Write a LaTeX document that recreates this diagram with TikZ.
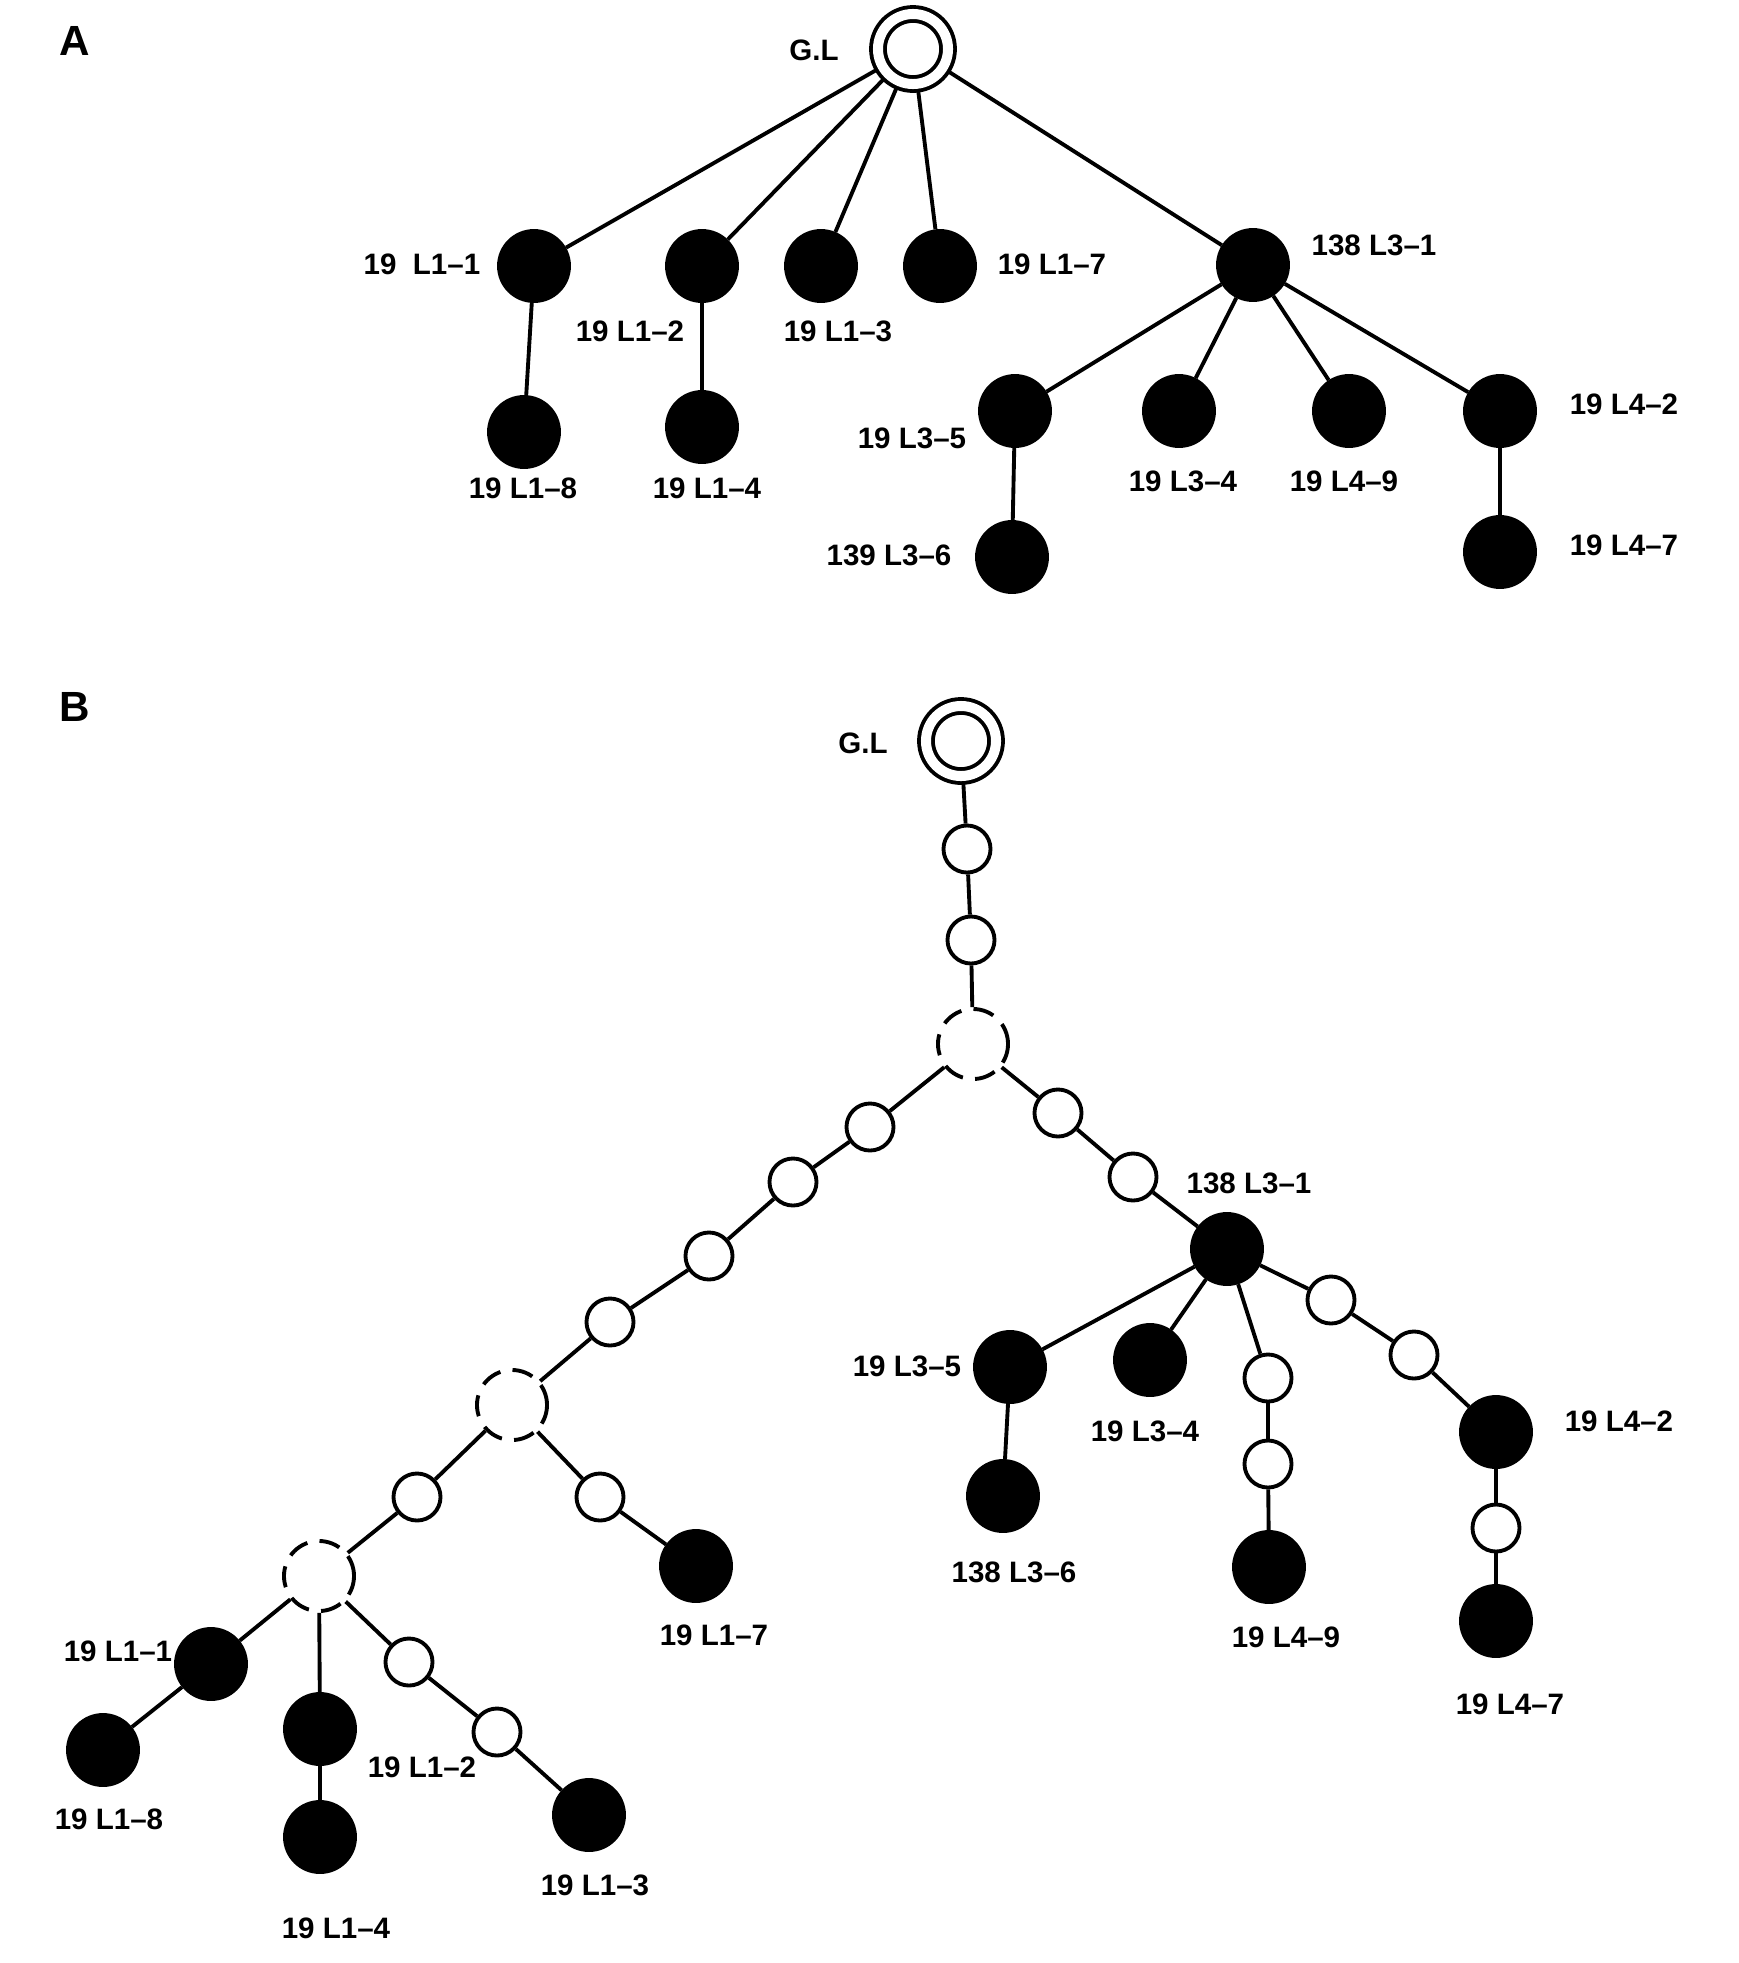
\documentclass[tikz,border=0pt]{standalone}
\usepackage{fontspec}
\setmainfont{Liberation Sans}
\usepackage{tikz}
\usetikzlibrary{shapes, calc, backgrounds}

\begin{document}
\begin{tikzpicture}[x=0.01cm, y=-0.01cm]
\useasboundingbox (0,0) rectangle (1738,1963);
\def\lw{1.1pt}
	\tikzset{class1/.style={circle, draw=black, fill=black, line width=\lw, inner sep=0pt, minimum size=0.70cm}}
	\tikzset{class0/.style={circle, draw=black, fill=white, line width=\lw, inner sep=0pt, minimum size=0.47cm}}
	\tikzset{classD/.style={circle, draw=black, fill=white, line width=\lw, inner sep=0pt, minimum size=0.70cm, dash pattern=on 6pt off 3.5pt}}
	\tikzset{classG/.style={circle, draw=black, fill=white, line width=\lw, inner sep=0pt, minimum size=0.70cm, double, double distance=0.1cm}}
	\tikzset{link/.style={-, line width=\lw}}
	\tikzset{lab/.style={inner sep=0pt, font=\bfseries\fontsize{8.4}{10}\selectfont}}
	\tikzset{panel/.style={inner sep=0pt, font=\bfseries\fontsize{12}{14}\selectfont}}

% A
\node[panel] (panA) at (75, 41) {A};
\node[classG] (aGL) at (913, 49) {};
\node[class1] (a11) at (534, 266) {};
\node[class1] (a12) at (702, 266) {};
\node[class1] (a13) at (821, 266) {};
\node[class1] (a17) at (940, 266) {};
\node[class1] (a31) at (1253, 265) {};
\node[class1] (a18) at (524, 432) {};
\node[class1] (a14) at (702, 427) {};
\node[class1] (a35) at (1015, 411) {};
\node[class1] (a34) at (1179, 411) {};
\node[class1] (a49) at (1349, 411) {};
\node[class1] (a42) at (1500, 411) {};
\node[class1] (a36) at (1012, 557) {};
\node[class1] (a47) at (1500, 552) {};

\begin{scope}[on background layer]
\draw [link] (aGL) -- (a11);
\draw [link] (aGL) -- (a12);
\draw [link] (aGL) -- (a13);
\draw [link] (aGL) -- (a17);
\draw [link] (aGL) -- (a31);
\draw [link] (a11) -- (a18);
\draw [link] (a12) -- (a14);
\draw [link] (a31) -- (a35);
\draw [link] (a31) -- (a34);
\draw [link] (a31) -- (a49);
\draw [link] (a31) -- (a42);
\draw [link] (a35) -- (a36);
\draw [link] (a42) -- (a47);
\end{scope}

\node[lab] (laGL) at (814, 50) {G.L};
\node[lab] (la11) at (422, 264) {19~~L1–1};
\node[lab] (la12) at (630, 331) {19 L1–2};
\node[lab] (la13) at (838, 331) {19 L1–3};
\node[lab] (la17) at (1052, 264) {19 L1–7};
\node[lab] (la31) at (1374, 245) {138 L3–1};
\node[lab] (la18) at (523, 488) {19 L1–8};
\node[lab] (la14) at (707, 488) {19 L1–4};
\node[lab] (la35) at (912, 438) {19 L3–5};
\node[lab] (la34) at (1183, 481) {19 L3–4};
\node[lab] (la49) at (1344, 481) {19 L4–9};
\node[lab] (la42) at (1624, 404) {19 L4–2};
\node[lab] (la36) at (889, 555) {139 L3–6};
\node[lab] (la47) at (1624, 545) {19 L4–7};

% B
\node[panel] (panB) at (75, 707) {B};
\node[lab] (lb11) at (118, 1651) {19 L1–1};
\node[classG] (bGL) at (961, 741) {};
\node[class0] (b01) at (967, 849) {};
\node[class0] (b02) at (971, 940) {};
\node[classD] (bD1) at (973, 1044) {};
\node[class0] (b03) at (870, 1127) {};
\node[class0] (b04) at (793, 1182) {};
\node[class0] (b05) at (709, 1256) {};
\node[class0] (b06) at (610, 1322) {};
\node[classD] (bD2) at (512, 1405) {};
\node[class0] (b07) at (1058, 1113) {};
\node[class0] (b08) at (1133, 1177) {};
\node[class1] (b31) at (1227, 1249) {};
\node[class0] (b09) at (417, 1497) {};
\node[classD] (bD3) at (319, 1576) {};
\node[class0] (b10) at (600, 1497) {};
\node[class1] (b17) at (696, 1566) {};
\node[class1] (b11) at (211, 1664) {};
\node[class1] (b18) at (103, 1750) {};
\node[class1] (b12) at (320, 1729) {};
\node[class1] (b14) at (320, 1837) {};
\node[class0] (b19) at (409, 1662) {};
\node[class0] (b20) at (497, 1732) {};
\node[class1] (b13) at (589, 1815) {};
\node[class1] (b35) at (1010, 1367) {};
\node[class1] (b34) at (1150, 1360) {};
\node[class0] (b21) at (1268, 1378) {};
\node[class0] (b22) at (1268, 1464) {};
\node[class1] (b49) at (1269, 1567) {};
\node[class0] (b23) at (1331, 1300) {};
\node[class0] (b24) at (1414, 1355) {};
\node[class1] (b42) at (1496, 1432) {};
\node[class0] (b25) at (1496, 1528) {};
\node[class1] (b47) at (1496, 1621) {};
\node[class1] (b36) at (1003, 1496) {};

\begin{scope}[on background layer]
\draw [link] (bGL) -- (b01);
\draw [link] (b01) -- (b02);
\draw [link] (b02) -- (bD1);
\draw [link] (bD1) -- (b03);
\draw [link] (b03) -- (b04);
\draw [link] (b04) -- (b05);
\draw [link] (b05) -- (b06);
\draw [link] (b06) -- (bD2);
\draw [link] (bD1) -- (b07);
\draw [link] (b07) -- (b08);
\draw [link] (b08) -- (b31);
\draw [link] (bD2) -- (b09);
\draw [link] (b09) -- (bD3);
\draw [link] (bD2) -- (b10);
\draw [link] (b10) -- (b17);
\draw [link] (bD3) -- (b11);
\draw [link] (b11) -- (b18);
\draw [link] (bD3) -- (b12);
\draw [link] (b12) -- (b14);
\draw [link] (bD3) -- (b19);
\draw [link] (b19) -- (b20);
\draw [link] (b20) -- (b13);
\draw [link] (b31) -- (b35);
\draw [link] (b31) -- (b34);
\draw [link] (b31) -- (b21);
\draw [link] (b21) -- (b22);
\draw [link] (b22) -- (b49);
\draw [link] (b31) -- (b23);
\draw [link] (b23) -- (b24);
\draw [link] (b24) -- (b42);
\draw [link] (b42) -- (b25);
\draw [link] (b25) -- (b47);
\draw [link] (b35) -- (b36);
\end{scope}

\node[lab] (lbGL) at (863, 743) {G.L};
\node[lab] (lb31) at (1249, 1183) {138 L3–1};
\node[lab] (lb35) at (907, 1366) {19 L3–5};
\node[lab] (lb34) at (1145, 1431) {19 L3–4};
\node[lab] (lb36) at (1014, 1572) {138 L3–6};
\node[lab] (lb49) at (1286, 1637) {19 L4–9};
\node[lab] (lb42) at (1619, 1421) {19 L4–2};
\node[lab] (lb47) at (1510, 1704) {19 L4–7};
\node[lab] (lb17) at (714, 1635) {19 L1–7};
\node[lab] (lb18) at (109, 1819) {19 L1–8};
\node[lab] (lb14) at (336, 1928) {19 L1–4};
\node[lab] (lb12) at (422, 1767) {19 L1–2};
\node[lab] (lb13) at (595, 1885) {19 L1–3};
\end{tikzpicture}
\end{document}
